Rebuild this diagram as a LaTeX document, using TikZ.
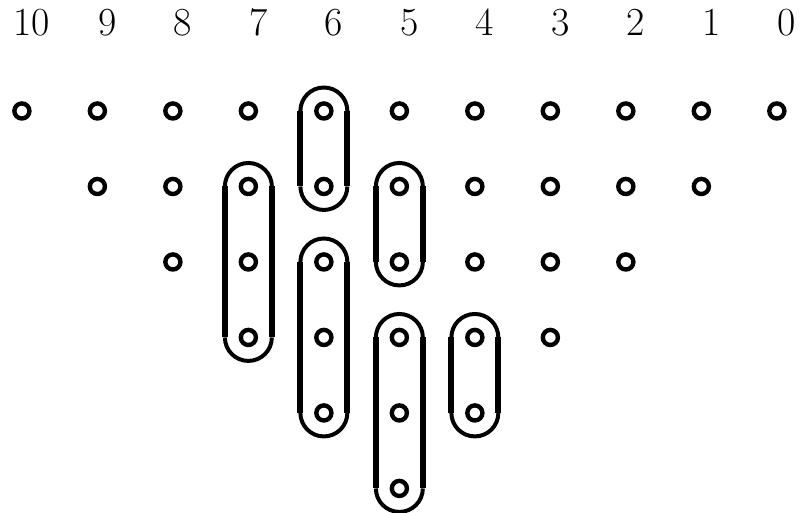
\documentclass[tikz,border=0pt]{standalone}
\begin{document}
\begin{tikzpicture}[x=1cm,y=1cm,
    dot/.style={circle,draw,line width=1.65pt,minimum size=0.2cm,inner sep=0pt},
    label/.style={inner sep=0pt,font=\fontsize{15}{18}\selectfont},
    arcline/.style={line width=1.5pt},
    sideline/.style={line width=2.2pt}]
  \useasboundingbox (-0.29,1.47) rectangle (10.32,-5.32);
  % column numbers
  \foreach \c in {0,...,10}
    \node[label] (l\c) at ({10-\c+0.13},1.17) {\c};
  % rows of dots
  \foreach \r/\a/\b in {1/0/10,2/1/9,3/2/8,4/3/7,5/4/6,6/5/5}
    \foreach \c in {\a,...,\b}
      \node[dot] (d\r-\c) at (10-\c,1-\r) {};
  % capsules: top row / bottom row / column
  \foreach \t/\b/\c in {1/2/6,2/4/7,2/3/5,3/5/6,4/6/5,4/5/4} {
    \draw[sideline] ([xshift=-0.311cm]d\t-\c.center) -- ([xshift=-0.311cm]d\b-\c.center);
    \draw[sideline] ([xshift=0.311cm]d\t-\c.center) -- ([xshift=0.311cm]d\b-\c.center);
    \draw[arcline] ([xshift=-0.311cm]d\t-\c.center) arc (180:0:0.311);
    \draw[arcline] ([xshift=-0.311cm]d\b-\c.center) arc (180:360:0.311);
  }
\end{tikzpicture}
\end{document}
